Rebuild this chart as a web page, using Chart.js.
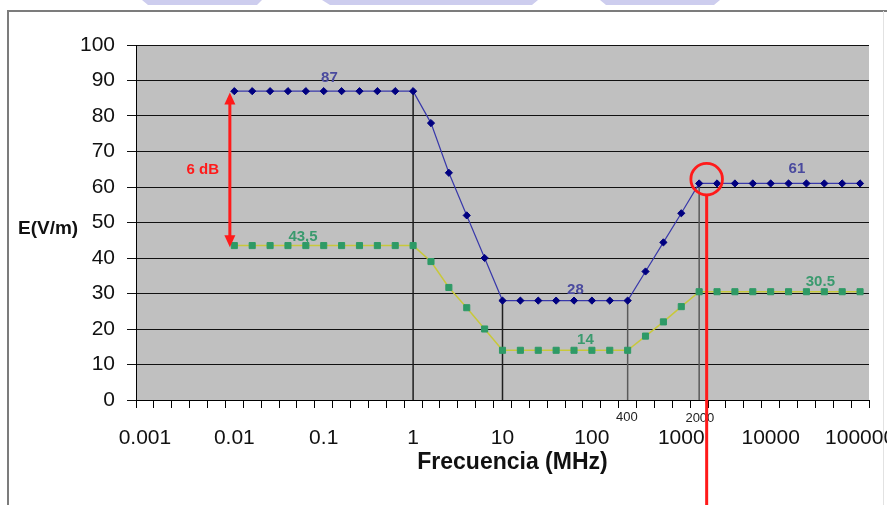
<!DOCTYPE html>
<html><head><meta charset="utf-8">
<script src="https://cdn.jsdelivr.net/npm/chart.js@4.4.1/dist/chart.umd.min.js"></script>
<style>html,body{margin:0;padding:0;background:#fff;overflow:hidden}#wrap{position:relative;width:887px;height:505px}</style>
</head><body><div id="wrap"><canvas id="c" width="887" height="505"></canvas></div>
<script>
// ---- DATA ----
const categories = ['0.001','0.0016','0.0025','0.004','0.0063',
  '0.01','0.016','0.025','0.04','0.063',
  '0.1','0.16','0.25','0.4','0.63',
  '1','1.6','2.5','4','6.3',
  '10','16','25','40','63',
  '100','160','250','400','630',
  '1000','1600','2500','4000','6300',
  '10000','16000','25000','40000','63000','100000'];
const tickLabels = ['0.001','0.01','0.1','1','10','100','1000','10000','100000'];
const upperLimit = [null,null,null,null,null,
  87,87,87,87,87,
  87,87,87,87,87,
  87,78,64,52,40,
  28,28,28,28,28,
  28,28,28,36.2,44.4,
  52.6,61,61,61,61,
  61,61,61,61,61,61];
const lowerLimit = [null,null,null,null,null,
  43.5,43.5,43.5,43.5,43.5,
  43.5,43.5,43.5,43.5,43.5,
  43.5,39,31.7,26,20,
  14,14,14,14,14,
  14,14,14,18,22,
  26.3,30.5,30.5,30.5,30.5,
  30.5,30.5,30.5,30.5,30.5,30.5];
const dropCats = ['1','10','250','1600'];
const dropTops = [87,28,28,61];
const yTicks = {min:0, max:100, step:10};
const valueLabels = [
  {t:'87', x:10.32, y:90.7, c:'#4a4a9e'},
  {t:'43,5', x:8.84, y:45.9, c:'#3a9a6e'},
  {t:'28', x:24.08, y:31.0, c:'#4a4a9e'},
  {t:'14', x:24.64, y:16.9, c:'#3a9a6e'},
  {t:'61', x:36.47, y:65.1, c:'#4a4a9e'},
  {t:'30.5', x:37.78, y:33.2, c:'#3a9a6e'}
];
const freqMarks = [{t:'400', x:26.96, y:-4.8},{t:'2000', x:31.04, y:-5.1}];
const dbNote = {t:'6 dB', x:3.24, y:64.8};
const arrowSpan = {x:4.75, top:86.6, bottom:43.0};
const circleMark = {x:31.42, y:62.2};

// ---- CHART ----
const FONT = '"Liberation Sans", Arial, sans-serif';
const datasets = [
  {label:'upper', data:upperLimit, borderColor:'#3838aa', borderWidth:1.2, pointStyle:'rectRot',
   pointRadius:3.6, pointBackgroundColor:'#000080', pointBorderColor:'#000080', pointBorderWidth:1, spanGaps:false},
  {label:'lower', data:lowerLimit, borderColor:'#c8c83a', borderWidth:1.5, pointStyle:'rect',
   pointRadius:4.3, pointBackgroundColor:'#2e9a66', pointBorderColor:'#2e9a66', pointBorderWidth:1}
];
dropCats.forEach((c,i)=>{
  datasets.push({label:'drop'+i, data:[{x:c,y:dropTops[i]},{x:c,y:0}],
    borderColor: i<2 ? '#1e1e1e' : '#5a5a5a', borderWidth:1.5, pointRadius:0});
});

const deco = {
  id:'deco',
  beforeDraw(chart){
    const ctx = chart.ctx, a = chart.chartArea;
    ctx.save();
    ctx.fillStyle = '#cdcdee';
    [[142,262,148,257],[322,538,330,532],[600,720,606,714]].forEach(p=>{
      ctx.beginPath(); ctx.moveTo(p[0],0); ctx.lineTo(p[1],0); ctx.lineTo(p[3],5); ctx.lineTo(p[2],5); ctx.closePath(); ctx.fill();
    });
    ctx.strokeStyle = '#7c7c7c'; ctx.lineWidth = 2;
    ctx.beginPath(); ctx.moveTo(8,505); ctx.lineTo(8,11); ctx.lineTo(887,11); ctx.stroke();
    ctx.strokeStyle = '#e2e2e2'; ctx.lineWidth = 1;
    ctx.beginPath(); ctx.moveTo(883.5,11); ctx.lineTo(883.5,505); ctx.stroke();
    ctx.fillStyle = '#c0c0c0';
    ctx.fillRect(a.left, a.top, a.right-a.left, a.bottom-a.top);
    ctx.restore();
  },
  afterDraw(chart){
    const ctx = chart.ctx, xs = chart.scales.x, ys = chart.scales.y;
    ctx.save();
    ctx.textAlign = 'center'; ctx.textBaseline = 'middle';
    ctx.font = 'bold 15px ' + FONT;
    valueLabels.forEach(l=>{ ctx.fillStyle = l.c; ctx.fillText(l.t, xs.getPixelForValue(l.x), ys.getPixelForValue(l.y)); });
    ctx.font = '13px ' + FONT; ctx.fillStyle = '#222';
    freqMarks.forEach(l=> ctx.fillText(l.t, xs.getPixelForValue(l.x), ys.getPixelForValue(l.y)));
    ctx.fillStyle = '#111';
    ctx.font = 'bold 23px ' + FONT;
    ctx.fillText('Frecuencia (MHz)', (xs.left+xs.right)/2 + 10, 463);
    ctx.font = 'bold 19px ' + FONT; ctx.textAlign = 'left';
    ctx.fillText('E(V/m)', 18, ys.getPixelForValue(48.3));
    ctx.fillStyle = '#ff1a1a'; ctx.strokeStyle = '#ff1a1a';
    ctx.textAlign = 'center'; ctx.font = 'bold 15px ' + FONT;
    ctx.fillText(dbNote.t, xs.getPixelForValue(dbNote.x), ys.getPixelForValue(dbNote.y));
    const ax = xs.getPixelForValue(arrowSpan.x), at = ys.getPixelForValue(arrowSpan.top), ab = ys.getPixelForValue(arrowSpan.bottom);
    ctx.lineWidth = 3;
    ctx.beginPath(); ctx.moveTo(ax, at+8); ctx.lineTo(ax, ab-8); ctx.stroke();
    ctx.beginPath(); ctx.moveTo(ax, at); ctx.lineTo(ax-5.5, at+12); ctx.lineTo(ax+5.5, at+12); ctx.closePath(); ctx.fill();
    ctx.beginPath(); ctx.moveTo(ax, ab); ctx.lineTo(ax-5.5, ab-12); ctx.lineTo(ax+5.5, ab-12); ctx.closePath(); ctx.fill();
    const cx = xs.getPixelForValue(circleMark.x), cy = ys.getPixelForValue(circleMark.y), r = 15.8;
    ctx.lineWidth = 2.8;
    ctx.beginPath(); ctx.arc(cx, cy, r, 0, Math.PI*2); ctx.stroke();
    ctx.lineWidth = 3;
    ctx.beginPath(); ctx.moveTo(cx, cy+r); ctx.lineTo(cx, chart.height); ctx.stroke();
    ctx.restore();
  }
};

new Chart(document.getElementById('c'), {
  type:'line',
  data:{labels:categories, datasets},
  options:{
    responsive:false, devicePixelRatio:1, animation:false,
    layout:{padding:{top:45, right:18, left:0, bottom:0}},
    plugins:{legend:{display:false}, tooltip:{enabled:false}},
    scales:{
      x:{type:'category', offset:true,
        grid:{offset:true, drawOnChartArea:false, drawTicks:true, tickLength:8, color:'#000', lineWidth:1},
        border:{display:true, color:'#000', width:1},
        ticks:{autoSkip:false, maxRotation:0, minRotation:0, padding:18, color:'#111',
          font:{family:FONT, size:21},
          callback:(v,i)=> tickLabels.includes(categories[i]) ? categories[i] : ''},
        afterFit(s){ s.height = 105; s.paddingLeft = 0; s.paddingRight = 0; }
      },
      y:{min:yTicks.min, max:yTicks.max,
        grid:{color:'#111', lineWidth:1, drawTicks:true, tickLength:9},
        border:{display:true, color:'#000', width:1},
        ticks:{stepSize:yTicks.step, padding:12, color:'#111', font:{family:FONT, size:21}},
        afterFit(s){ s.width = 136; s.paddingTop = 0; s.paddingBottom = 0; }
      }
    }
  },
  plugins:[deco]
});
</script></body></html>
